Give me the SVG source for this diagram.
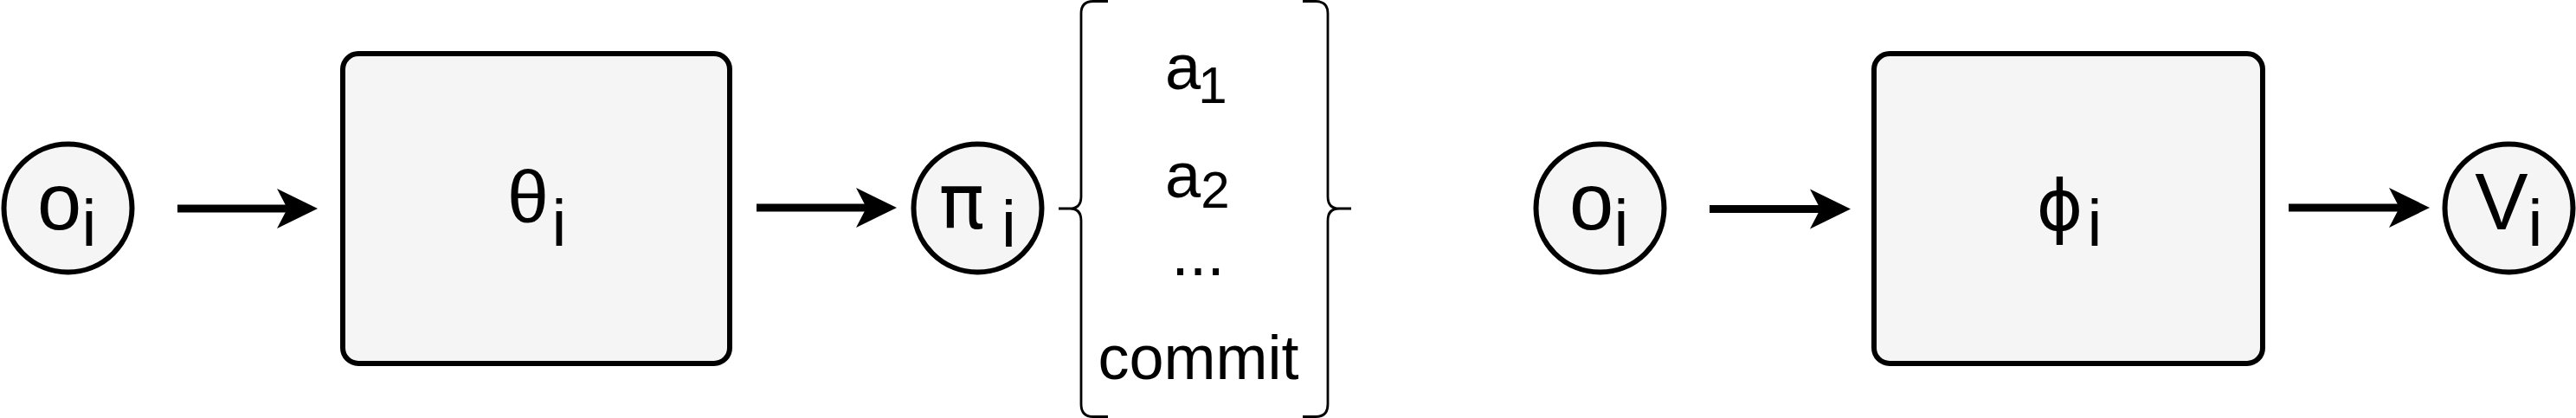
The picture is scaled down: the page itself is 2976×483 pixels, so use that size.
<svg xmlns="http://www.w3.org/2000/svg" xmlns:xlink="http://www.w3.org/1999/xlink" width="2976" height="483" viewBox="0 0 2976 483">
  <style>
    .shape { fill: #f5f5f5; stroke: #000000; stroke-width: 6; }
    .brace { fill: none; stroke: #000000; stroke-width: 2.8; stroke-linecap: butt; }
    .edge { fill: none; stroke: #000000; stroke-width: 9; }
    .head { fill: #000000; stroke: none; }
    text { font-family: "Liberation Sans", Arial, Helvetica, sans-serif; fill: #000000; text-anchor: middle; }
    .big { font-size: 92px; }
    .greek { font-family: "DejaVu Sans", "Liberation Sans", sans-serif; }
    .sub { font-size: 76px; }
    .act { font-size: 74px; }
    .actsub { font-size: 60px; }
  </style>
  <defs>
    <path id="arrowhead" d="M0,0 L-47,-23 L-35,0 L-47,23 Z"/>
  </defs>

  <g id="node-o1">
    <circle class="shape" cx="78.5" cy="240.5" r="74"/>
    <text class="big" x="68.5" y="265">o</text>
    <text class="sub" x="103" y="284">i</text>
  </g>

  <g id="node-theta">
    <rect class="shape" x="396" y="62" width="447" height="358" rx="18" ry="18"/>
    <text class="big" x="610" y="257" style="font-size:86px">θ</text>
    <text class="sub" x="646" y="284">i</text>
  </g>

  <g id="node-pi">
    <circle class="shape" cx="1129.5" cy="240.5" r="74"/>
    <text class="big greek" x="1111" y="264" style="font-size:88px">π</text>
    <text class="sub" x="1165.5" y="285">i</text>
  </g>

  <g id="node-actions">
    <path class="brace" d="M1280,1.5 H1263 Q1249,1.5 1249,15.5 V227 Q1249,241 1236,241 H1223 M1236,241 Q1249,241 1249,255 V467 Q1249,481.5 1263,481.5 H1280"/>
    <path class="brace" d="M1505,1.5 H1520 Q1534,1.5 1534,15.5 V227 Q1534,241 1547,241 H1561 M1547,241 Q1534,241 1534,255 V467 Q1534,481.5 1520,481.5 H1505"/>
    <text class="act" x="1366.5" y="103">a</text>
    <text class="actsub" x="1401" y="119">1</text>
    <text class="act" x="1366.5" y="228">a</text>
    <text class="actsub" x="1404" y="240">2</text>
    <text class="act" x="1384" y="318">...</text>
    <text class="act" x="1384.5" y="438" style="font-size:72px">commit</text>
  </g>

  <g id="node-o2">
    <circle class="shape" cx="1848.5" cy="240.5" r="74"/>
    <text class="big" x="1838.5" y="265">o</text>
    <text class="sub" x="1873" y="284">i</text>
  </g>

  <g id="node-phi">
    <rect class="shape" x="2165" y="62" width="449" height="358" rx="18" ry="18"/>
    <text class="big greek" x="2379.5" y="266" style="font-size:82px">ϕ</text>
    <text class="sub" x="2420" y="284">i</text>
  </g>

  <g id="node-v">
    <circle class="shape" cx="2898.5" cy="240.5" r="74"/>
    <text class="big" x="2890" y="265">V</text>
    <text class="sub" x="2929" y="284">i</text>
  </g>

  <g id="connectors">
    <line class="edge" x1="205" y1="241" x2="334" y2="241"/>
    <use href="#arrowhead" xlink:href="#arrowhead" class="head" transform="translate(367,241)"/>
    <line class="edge" x1="874" y1="240" x2="1003" y2="240"/>
    <use href="#arrowhead" xlink:href="#arrowhead" class="head" transform="translate(1036,240)"/>
    <line class="edge" x1="1975" y1="241.5" x2="2105" y2="241.5"/>
    <use href="#arrowhead" xlink:href="#arrowhead" class="head" transform="translate(2138,241.5)"/>
    <line class="edge" x1="2644" y1="240" x2="2774" y2="240"/>
    <use href="#arrowhead" xlink:href="#arrowhead" class="head" transform="translate(2807,240)"/>
  </g>
</svg>
